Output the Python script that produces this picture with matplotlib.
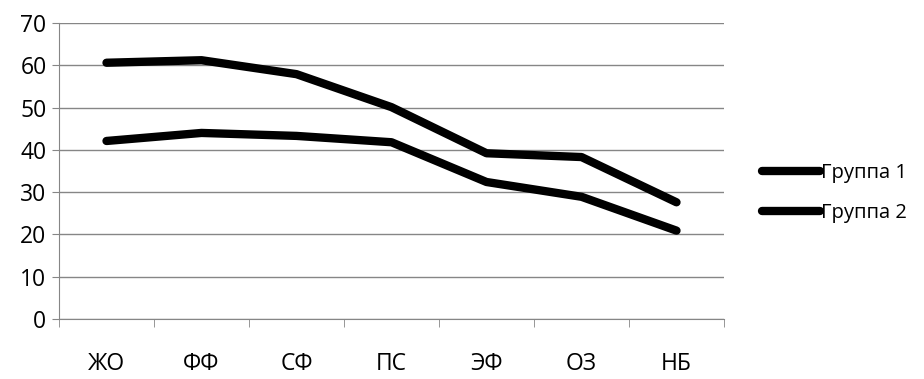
import matplotlib.pyplot as plt
import numpy as np

# categories and values
categories = ["ЖО", "ФФ", "СФ", "ПС", "ЭФ", "ОЗ", "НБ"]
group1 = [60.6, 61.2, 57.9, 50.1, 39.2, 38.3, 27.6]
group2 = [42.1, 44.0, 43.3, 41.8, 32.4, 28.9, 20.9]
series_names = ["Группа 1", "Группа 2"]
yticks = [0, 10, 20, 30, 40, 50, 60, 70]

plt.rcParams['font.family'] = ['Open Sans', 'DejaVu Sans']

fig = plt.figure(figsize=(9.24, 3.79), dpi=100)
ax = fig.add_axes([59/924, 1-319/379, 665/924, 296/379])

x = np.arange(len(categories))
for vals, name in zip([group1, group2], series_names):
    ax.plot(x, vals, color='black', lw=6, solid_capstyle='round',
            solid_joinstyle='round', label=name)

gray = '#868686'
ax.set_xlim(-0.5, len(categories) - 0.5)
ax.set_ylim(0, 70)
ax.set_yticks(yticks)
ax.yaxis.grid(True, color=gray, lw=1)
ax.set_axisbelow(True)

ax.set_xticks(x)
ax.set_xticklabels(categories)
ax.set_xticks(np.arange(-0.5, len(categories) + 0.5, 1), minor=True)
ax.tick_params(axis='x', which='major', length=0, pad=24, labelsize=16.5)
ax.tick_params(axis='x', which='minor', length=6, color=gray, direction='out')
ax.tick_params(axis='y', length=5, color=gray, labelsize=16.5, pad=4)

for s in ['top', 'right']:
    ax.spines[s].set_visible(False)
ax.spines['left'].set_color(gray)
ax.spines['bottom'].set_color(gray)

leg = ax.legend(loc='center left', bbox_to_anchor=(754/924, 1-193/379),
                bbox_transform=fig.transFigure, frameon=False,
                fontsize=14.5, handlelength=2.9, handletextpad=0.05,
                labelspacing=0.95, borderaxespad=0)

fig.savefig("out.png", dpi=100)
